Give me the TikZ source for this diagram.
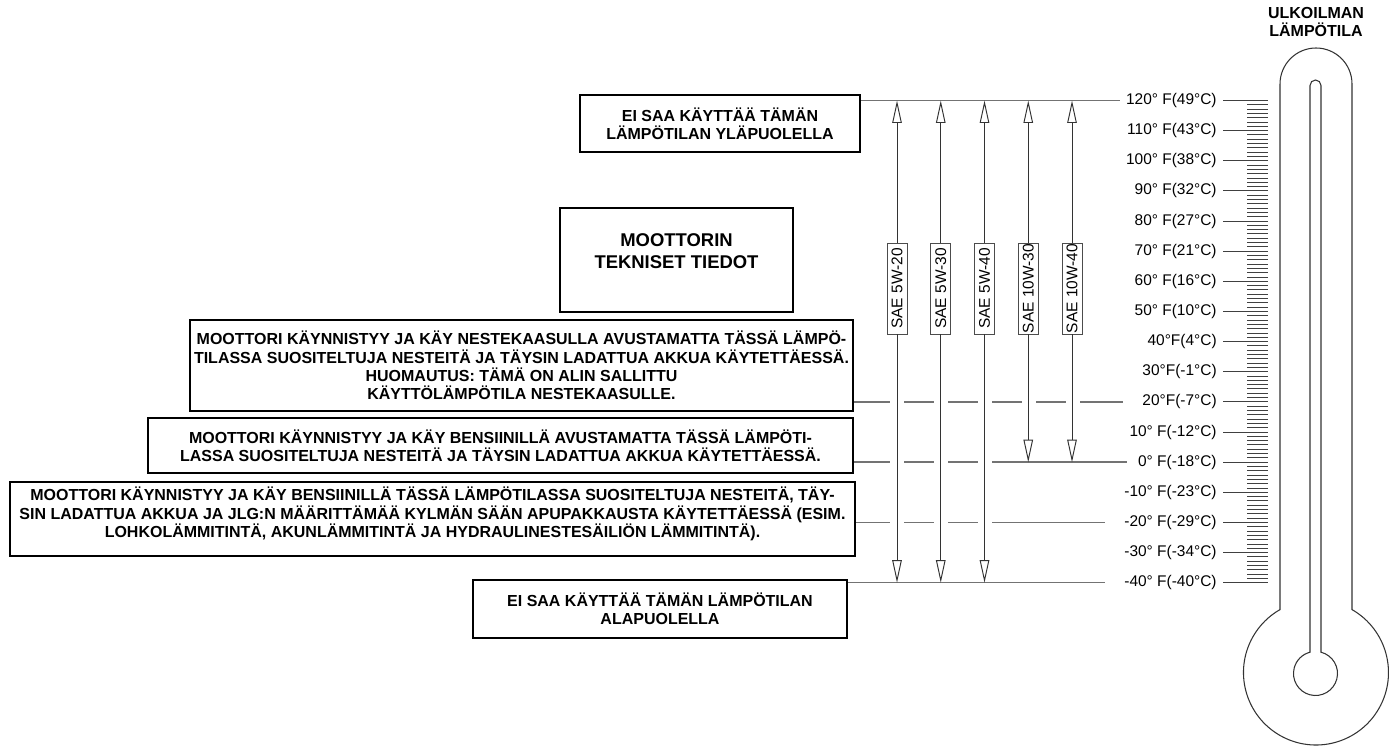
\documentclass[tikz,border=0pt]{standalone}
\usepackage{fontspec}
\setmainfont{Liberation Sans}
\usepackage{tikz}
\usetikzlibrary{positioning, arrows.meta, calc}

\newcommand{\boxtxt}{\bfseries\fontsize{9.1}{10.4}\selectfont}
\newcommand{\scaletxt}{\fontsize{8.8}{10}\selectfont}

\begin{document}
\begin{tikzpicture}[x=0.02cm, y=-0.02cm,
    infobox/.style={draw, line width=1.3pt, align=center, inner sep=0pt, font=\boxtxt},
    level/.style={draw=black!55, line width=0.9pt},
    oilrange/.style={draw=black!80, line width=0.55pt},
    oiltip/.style={-{Triangle[open, length=0.45cm, width=0.19cm]}},
    oilbox/.style={draw=black!70, fill=white, line width=0.5pt, rotate=90,
      minimum width=1.82cm, minimum height=0.4cm, inner sep=0pt, font=\scaletxt},
    tick/.style={draw=black!75, line width=0.55pt},
    thermo/.style={draw=black!80, line width=0.6pt}
  ]
  \useasboundingbox (0,0) rectangle (1389,746);

  % ends of the level lines
  \coordinate (e120) at (1120,100.5);
  \coordinate (e20) at (1123,401.9);
  \coordinate (e0) at (1127,462.2);
  \coordinate (em20) at (1105,522.5);
  \coordinate (em40) at (1105,582.7);

  % text boxes
  \node[infobox, minimum width=5.6cm, minimum height=1.14cm] (stopabove) at (720,123.5)
    {EI SAA KÄYTTÄÄ TÄMÄN\\LÄMPÖTILAN YLÄPUOLELLA};
  \node[infobox, minimum width=4.66cm, minimum height=2.08cm,
    label={[font=\bfseries\fontsize{10.5}{12.6}\selectfont, align=center, yshift=0.17cm]center:MOOTTORIN\\TEKNISET TIEDOT}]
    (spec) at (676.5,260) {};
  \node[infobox, minimum width=13.26cm, minimum height=1.82cm] (lpg) at (521.5,365.5)
    {MOOTTORI KÄYNNISTYY JA KÄY NESTEKAASULLA AVUSTAMATTA TÄSSÄ LÄMPÖ-\\
     TILASSA SUOSITELTUJA NESTEITÄ JA TÄYSIN LADATTUA AKKUA KÄYTETTÄESSÄ.\\
     HUOMAUTUS: TÄMÄ ON ALIN SALLITTU\\
     KÄYTTÖLÄMPÖTILA NESTEKAASULLE.};
  \node[infobox, minimum width=14.1cm, minimum height=1.1cm] (petrol) at (500.5,445.5)
    {MOOTTORI KÄYNNISTYY JA KÄY BENSIINILLÄ AVUSTAMATTA TÄSSÄ LÄMPÖTI-\\
     LASSA SUOSITELTUJA NESTEITÄ JA TÄYSIN LADATTUA AKKUA KÄYTETTÄESSÄ.};
  \node[infobox, minimum width=16.9cm, minimum height=1.48cm,
    label={[font=\boxtxt, align=center, yshift=0.1cm]center:MOOTTORI KÄYNNISTYY JA KÄY BENSIINILLÄ TÄSSÄ LÄMPÖTILASSA SUOSITELTUJA NESTEITÄ, TÄY-\\
     SIN LADATTUA AKKUA JA JLG:N MÄÄRITTÄMÄÄ KYLMÄN SÄÄN APUPAKKAUSTA KÄYTETTÄESSÄ (ESIM.\\
     LOHKOLÄMMITINTÄ, AKUNLÄMMITINTÄ JA HYDRAULINESTESÄILIÖN LÄMMITINTÄ).}]
    (coldpack) at (432.5,519) {};
  \node[infobox, minimum width=7.48cm, minimum height=1.16cm] (stopbelow) at (660,609)
    {EI SAA KÄYTTÄÄ TÄMÄN LÄMPÖTILAN\\ALAPUOLELLA};

  % level lines
  \draw[level] (stopabove.east |- e120) -- (e120);
  \draw[level, dash pattern=on 0.72cm off 0.28cm on 0.6cm off 0.28cm on 0.6cm off 0.28cm
    on 0.6cm off 0.28cm on 0.6cm off 0.28cm on 0.86cm] (lpg.east |- e20) -- (e20);
  \draw[level, dash pattern=on 0.72cm off 0.28cm on 0.6cm off 0.28cm on 0.6cm off 0.28cm
    on 2.72cm] (petrol.east |- e0) -- (e0);
  \draw[level, dash pattern=on 0.68cm off 0.28cm on 0.6cm off 0.28cm on 0.6cm off 0.28cm
    on 2.28cm] (coldpack.east |- em20) -- (em20);
  \draw[level] (stopbelow.east |- em40) -- (em40);

  % oil grades
  \foreach \x/\oil/\yb [count=\k] in {897/5W-20/582.7, 940.75/5W-30/582.7, 984.5/5W-40/582.7,
      1028.25/10W-30/462.2, 1072/10W-40/462.2}{
    \node[oilbox] (sae\k) at (\x,288.5) {SAE \oil};
    \coordinate (top\k) at (\x,100.5);
    \coordinate (bot\k) at (\x,\yb);
    \draw[oilrange, oiltip] (sae\k.east) -- (top\k);
    \draw[oilrange, oiltip] (sae\k.west) -- (bot\k);
  }

  % temperature scale
  \foreach \lab [count=\i from 0] in {120° F(49°C), 110° F(43°C), 100° F(38°C), 90° F(32°C),
      80° F(27°C), 70° F(21°C), 60° F(16°C), 50° F(10°C), 40°F(4°C), 30°F(-1°C), 20°F(-7°C),
      10° F(-12°C), 0° F(-18°C), -10° F(-23°C), -20° F(-29°C), -30° F(-34°C), -40° F(-40°C)}{
    \node[anchor=east, inner sep=0pt, font=\scaletxt] (temp\i) at (1217,100.5+30.14*\i) {\lab};
    \coordinate (mark\i) at (1268,100.5+30.14*\i);
    \draw[tick] ([xshift=0.12cm]temp\i.east) -- (mark\i);
  }
  \foreach \k in {0,...,112}
    \draw[tick] (1247,100.5+30.14*\k/7) -- (1268,100.5+30.14*\k/7);

  % thermometer
  \node[font=\boxtxt, align=center] (title) at (1316,22) {ULKOILMAN\\LÄMPÖTILA};
  \draw[thermo] (1280,609.6) -- (1280,84) arc[start angle=180, end angle=360, radius=36]
    -- (1352,609.6) arc[start angle=-60.2, end angle=240.2, radius=72.5] -- cycle;
  \draw[thermo] (1310,652.2) -- (1310,85.5) arc[start angle=180, end angle=360, radius=5.5]
    -- (1321,652.2) arc[start angle=-75.5, end angle=255.5, radius=22] -- cycle;
\end{tikzpicture}
\end{document}
